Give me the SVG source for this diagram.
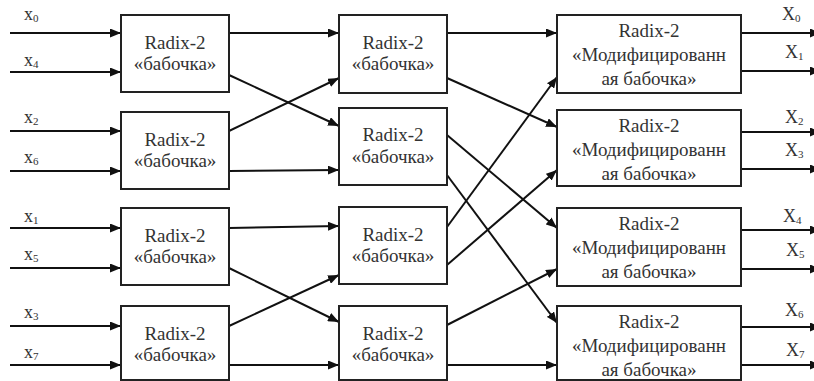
<svg xmlns="http://www.w3.org/2000/svg" width="814" height="381" viewBox="0 0 814 381">
<defs>
<marker id="ah" markerUnits="userSpaceOnUse" markerWidth="11" markerHeight="9" refX="11" refY="4.5" orient="auto">
<path d="M0,0 L11,4.5 L0,9 z" fill="#111"/>
</marker>
<style>
.box{fill:#fff;stroke:#222;stroke-width:2}
text{font-family:'Liberation Serif','DejaVu Serif',serif}
.t{font-size:19px;fill:#333;text-anchor:middle}
.lbl{font-size:18px;fill:#333}
.sub{font-size:11px}
#connectors line{stroke:#111;stroke-width:2;marker-end:url(#ah)}
</style>
</defs>
<rect width="814" height="381" fill="#fff"/>
<g id="connectors">
<line x1="10" y1="33" x2="121" y2="33"/>
<line x1="10" y1="72" x2="121" y2="72"/>
<line x1="10" y1="131" x2="121" y2="131"/>
<line x1="10" y1="171" x2="121" y2="171"/>
<line x1="10" y1="228" x2="121" y2="228"/>
<line x1="10" y1="268" x2="121" y2="268"/>
<line x1="10" y1="326" x2="121" y2="326"/>
<line x1="10" y1="365" x2="121" y2="365"/>
<line x1="229" y1="33" x2="339" y2="33"/>
<line x1="229" y1="75" x2="339" y2="126"/>
<line x1="229" y1="131" x2="339" y2="78"/>
<line x1="229" y1="171" x2="339" y2="170"/>
<line x1="229" y1="228" x2="339" y2="226"/>
<line x1="229" y1="268" x2="339" y2="322"/>
<line x1="229" y1="326" x2="339" y2="275"/>
<line x1="229" y1="365" x2="339" y2="365"/>
<line x1="447" y1="33" x2="557" y2="33"/>
<line x1="447" y1="78" x2="557" y2="127"/>
<line x1="447" y1="135" x2="557" y2="228"/>
<line x1="447" y1="175" x2="557" y2="323"/>
<line x1="447" y1="227" x2="557" y2="77"/>
<line x1="447" y1="265" x2="557" y2="170"/>
<line x1="447" y1="325" x2="557" y2="269"/>
<line x1="447" y1="365" x2="557" y2="365"/>
<line x1="741" y1="33" x2="821" y2="33"/>
<line x1="741" y1="71" x2="821" y2="71"/>
<line x1="741" y1="132" x2="821" y2="132"/>
<line x1="741" y1="169" x2="821" y2="169"/>
<line x1="741" y1="230" x2="821" y2="230"/>
<line x1="741" y1="269" x2="821" y2="269"/>
<line x1="741" y1="327" x2="821" y2="327"/>
<line x1="741" y1="365" x2="821" y2="365"/>
</g>
<g id="b1a"><rect class="box" x="121" y="15" width="108" height="77"/><text class="t" x="175" y="49">Radix-2</text><text class="t" x="175" y="70">«бабочка»</text></g>
<g id="b1b"><rect class="box" x="121" y="112" width="108" height="77"/><text class="t" x="175" y="146">Radix-2</text><text class="t" x="175" y="167">«бабочка»</text></g>
<g id="b1c"><rect class="box" x="121" y="208" width="108" height="77"/><text class="t" x="175" y="242">Radix-2</text><text class="t" x="175" y="263">«бабочка»</text></g>
<g id="b1d"><rect class="box" x="121" y="306" width="108" height="74"/><text class="t" x="175" y="340">Radix-2</text><text class="t" x="175" y="361">«бабочка»</text></g>
<g id="b2a"><rect class="box" x="339" y="15" width="108" height="78"/><text class="t" x="393" y="49">Radix-2</text><text class="t" x="393" y="70">«бабочка»</text></g>
<g id="b2b"><rect class="box" x="339" y="108" width="108" height="77"/><text class="t" x="393" y="141">Radix-2</text><text class="t" x="393" y="163">«бабочка»</text></g>
<g id="b2c"><rect class="box" x="339" y="207" width="108" height="77"/><text class="t" x="393" y="241">Radix-2</text><text class="t" x="393" y="262">«бабочка»</text></g>
<g id="b2d"><rect class="box" x="339" y="306" width="108" height="74"/><text class="t" x="393" y="340">Radix-2</text><text class="t" x="393" y="361">«бабочка»</text></g>
<g id="b3a"><rect class="box" x="557" y="15" width="184" height="78"/><text class="t" x="649" y="37">Radix-2</text><text class="t" x="649" y="61">«Модифицированн</text><text class="t" x="649" y="85">ая бабочка»</text></g>
<g id="b3b"><rect class="box" x="557" y="110" width="184" height="76"/><text class="t" x="649" y="132">Radix-2</text><text class="t" x="649" y="156">«Модифицированн</text><text class="t" x="649" y="180">ая бабочка»</text></g>
<g id="b3c"><rect class="box" x="557" y="208" width="184" height="78"/><text class="t" x="649" y="230">Radix-2</text><text class="t" x="649" y="254">«Модифицированн</text><text class="t" x="649" y="278">ая бабочка»</text></g>
<g id="b3d"><rect class="box" x="557" y="306" width="184" height="74"/><text class="t" x="649" y="328">Radix-2</text><text class="t" x="649" y="352">«Модифицированн</text><text class="t" x="649" y="376">ая бабочка»</text></g>
<g id="labels">
<text class="lbl" x="24" y="20">x<tspan class="sub" dy="2">0</tspan></text>
<text class="lbl" x="24" y="66">x<tspan class="sub" dy="2">4</tspan></text>
<text class="lbl" x="24" y="123">x<tspan class="sub" dy="2">2</tspan></text>
<text class="lbl" x="24" y="163">x<tspan class="sub" dy="2">6</tspan></text>
<text class="lbl" x="24" y="222">x<tspan class="sub" dy="2">1</tspan></text>
<text class="lbl" x="24" y="260">x<tspan class="sub" dy="2">5</tspan></text>
<text class="lbl" x="24" y="318">x<tspan class="sub" dy="2">3</tspan></text>
<text class="lbl" x="24" y="358">x<tspan class="sub" dy="2">7</tspan></text>
<text class="lbl" x="782" y="20">X<tspan class="sub" dy="2">0</tspan></text>
<text class="lbl" x="785" y="58">X<tspan class="sub" dy="2">1</tspan></text>
<text class="lbl" x="785" y="123">X<tspan class="sub" dy="2">2</tspan></text>
<text class="lbl" x="785" y="156">X<tspan class="sub" dy="2">3</tspan></text>
<text class="lbl" x="783" y="222">X<tspan class="sub" dy="2">4</tspan></text>
<text class="lbl" x="786" y="256">X<tspan class="sub" dy="2">5</tspan></text>
<text class="lbl" x="785" y="316">X<tspan class="sub" dy="2">6</tspan></text>
<text class="lbl" x="786" y="356">X<tspan class="sub" dy="2">7</tspan></text>
</g>
</svg>
